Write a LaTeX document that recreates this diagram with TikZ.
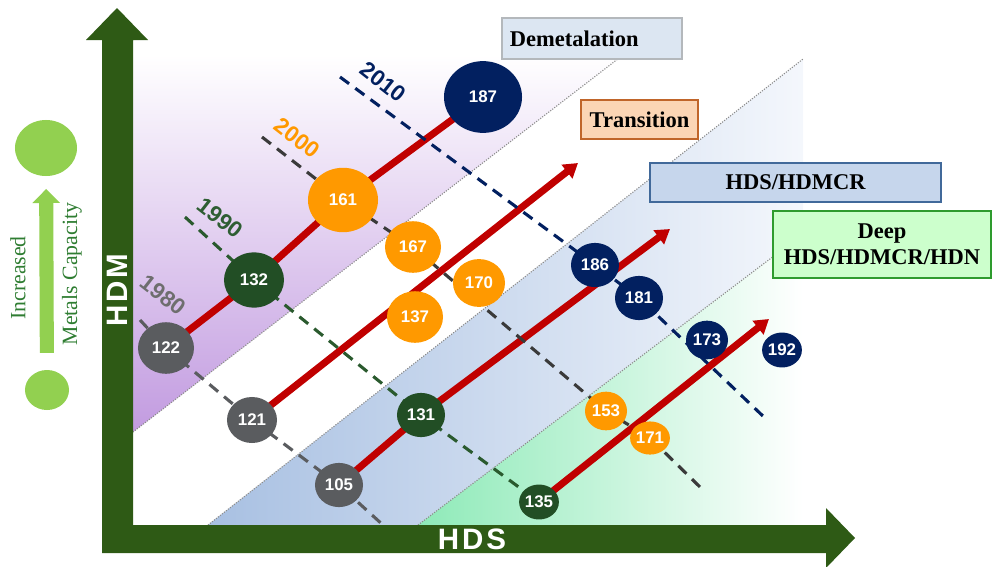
\documentclass[tikz,border=0pt]{standalone}
\usepackage{fontspec}
\setmainfont{Liberation Serif}
\newfontfamily\numfont{Liberation Sans}
\newfontfamily\axfont[LetterSpace=10]{Liberation Sans}
\usetikzlibrary{shapes.geometric,arrows.meta}

\definecolor{c80}{HTML}{5A5C5F}
\definecolor{c90}{HTML}{224E25}
\definecolor{c00}{HTML}{FF9900}
\definecolor{c10}{HTML}{022060}
\definecolor{line90}{HTML}{2A5A2E}
\definecolor{line00}{HTML}{3A3A3A}
\definecolor{lab80}{HTML}{6E6E6E}
\definecolor{lab90}{HTML}{2E5E33}
\definecolor{tred}{HTML}{C00000}
\definecolor{purp}{HTML}{C29BE0}
\definecolor{bluel}{HTML}{A8C0E2}
\definecolor{bluer}{HTML}{F4F7FC}
\definecolor{greenl}{HTML}{8EEAB8}
\definecolor{bandgray}{HTML}{8C8C8C}
\definecolor{axisgreen}{HTML}{2E5A15}
\definecolor{lgreen}{HTML}{92D050}
\definecolor{legtext}{HTML}{2F7D32}
\definecolor{demf}{HTML}{DCE6F2}
\definecolor{demb}{HTML}{B4B8BC}
\definecolor{traf}{HTML}{FBD5B5}
\definecolor{trab}{HTML}{C0652A}
\definecolor{hdsf}{HTML}{C6D6EC}
\definecolor{hdsb}{HTML}{41699A}
\definecolor{deef}{HTML}{CCFFCC}
\definecolor{deeb}{HTML}{2E9B2E}

\pgfdeclarelayer{bg}
\pgfdeclarelayer{mid}
\pgfsetlayers{bg,mid,main}

\tikzset{
  bub/.style={ellipse, inner sep=0pt, minimum width=#1*0.05cm, minimum height=#1*0.046cm,
    text=white, font=\numfont\bfseries\fontsize{12}{14}\selectfont},
  dec80/.style={bub=#1, fill=c80},
  dec90/.style={bub=#1, fill=c90},
  dec00/.style={bub=#1, fill=c00},
  dec10/.style={bub=#1, fill=c10},
  yrline/.style={line width=2.2pt, dash pattern=on 8pt off 5.5pt},
  trend/.style={draw=tred, line width=5pt},
  tip/.style={-{Triangle[length=10pt,width=12pt]}},
  band/.style={draw=bandgray, densely dotted, line width=0.8pt},
  zone/.style={draw=#1, line width=1.4pt, inner sep=0pt,
    font=\bfseries\fontsize{16}{18.5}\selectfont},
  yr/.style={font=\numfont\bfseries\fontsize{16}{18}\selectfont, rotate=-38},
  axlab/.style={text=white, font=\axfont\bfseries\fontsize{21}{24}\selectfont},
  lgtext/.style={text=legtext, rotate=90, font=\fontsize{15.5}{18}\selectfont},
}

\begin{document}
\begin{tikzpicture}[x=0.025cm, y=0.025cm]
  \useasboundingbox (0,0) rectangle (992,-566);
  \begin{pgfonlayer}{bg}
  \shade[top color=white, bottom color=purp] (133,-55) -- (623,-55) -- (133,-432) -- cycle;
  \shade[left color=bluel, right color=bluer] (208,-525) -- (803,-59) -- (803,-234) -- (418,-525) -- cycle;
  \shade[left color=greenl, right color=white] (418,-525) -- (803,-234) -- (803,-525) -- cycle;
  \draw[band] (133,-432) -- (623,-55);
  \draw[band] (208,-525) -- (803,-59);
  \draw[band] (418,-525) -- (803,-234);
  \end{pgfonlayer}

  \fill[axisgreen] (102,-553) -- (102,-40) -- (86,-40) -- (117,-8) -- (148,-40) -- (133,-40)
    -- (133,-525) -- (826,-525) -- (826,-508) -- (855,-538) -- (826,-568) -- (826,-553) -- cycle;
  \node[axlab, rotate=90] (lHDM) at (117,-290) {HDM};
  \node[axlab] (lHDS) at (472,-539) {HDS};

  \node[dec80=28] (n122) at (166,-348) {122};
  \node[dec90=30] (n132) at (254,-280) {132};
  \node[dec00=35] (n161) at (343,-200) {161};
  \node[dec10=39] (n187) at (483,-97) {187};
  \node[dec80=25] (n121) at (252,-420) {121};
  \node[dec00=28] (n167) at (413,-247) {167};
  \node[dec00=26] (n170) at (479,-283) {170};
  \node[dec00=28] (n137) at (415,-317) {137};
  \node[dec80=24] (n105) at (339,-485) {105};
  \node[dec90=24] (n131) at (421,-415) {131};
  \node[dec10=24] (n186) at (595,-265) {186};
  \node[dec10=24] (n181) at (639,-298) {181};
  \node[dec90=19] (n135) at (539,-502) {135};
  \node[dec00=21] (n153) at (606,-411) {153};
  \node[dec00=18] (n171) at (650,-438) {171};
  \node[dec10=21] (n173) at (707,-340) {173};
  \node[dec10=19] (n192) at (782,-350) {192};

  \coordinate (s80) at (140,-320);
  \coordinate (e80) at (383,-525);
  \coordinate (s90) at (185,-217);
  \coordinate (s00) at (262,-137);
  \coordinate (e00) at (701,-488);
  \coordinate (s10) at (340,-77);
  \coordinate (e10) at (765,-418);
  \coordinate (t2) at (578,-163);
  \coordinate (t3) at (670,-229);
  \coordinate (t4) at (769,-319);

  \begin{pgfonlayer}{mid}
  \draw[trend] (n122.center) -- (n132.center) -- (n161.center) -- (n187.center);
  \draw[trend, tip] (n121.center) -- (t2);
  \draw[trend, tip] (n105.center) -- (n131.center) -- (t3);
  \draw[trend, tip] (n135.center) -- (t4);
  \draw[yrline, c80] (s80) -- (n122.center) -- (n121.center) -- (n105.center) -- (e80);
  \draw[yrline, line90] (s90) -- (n132.center) -- (n131.center) -- (n135.center);
  \draw[yrline, line00] (s00) -- (n161.center) -- (n167.center) -- (n153.center) -- (n171.center) -- (e00);
  \draw[yrline, c10] (s10) -- (n186.center) -- (n181.center) -- (e10);
  \end{pgfonlayer}

  \node[yr, text=c10] (y10) at (383,-82) {2010};
  \node[yr, text=c00] (y00) at (297,-138) {2000};
  \node[yr, text=lab90] (y90) at (220,-218) {1990};
  \node[yr, text=lab80] (y80) at (163,-295) {1980};

  \node[zone=demb, fill=demf, minimum width=4.5cm, minimum height=1.025cm, text width=4.1cm, align=left] (zDem) at (592,-38.5) {Demetalation};
  \node[zone=trab, fill=traf, minimum width=2.925cm, minimum height=0.975cm] (zTra) at (639.5,-119.5) {Transition};
  \node[zone=hdsb, fill=hdsf, minimum width=7.275cm, minimum height=0.975cm] (zHds) at (795.5,-182.5) {HDS/HDMCR};
  \node[zone=deeb, fill=deef, minimum width=5.45cm, minimum height=1.675cm, align=center] (zDeep) at (882,-244.5) {Deep\\HDS/HDMCR/HDN};

  \node[ellipse, inner sep=0pt, fill=lgreen, minimum width=1.55cm, minimum height=1.4cm] (capHi) at (46,-148) {};
  \node[ellipse, inner sep=0pt, fill=lgreen, minimum width=1.1cm, minimum height=1.0cm] (capLo) at (47,-390) {};
  \draw[lgreen, line width=10pt, -{Triangle[length=10pt,width=19pt]}, shorten <=12pt, shorten >=9pt] (capLo) -- (capHi);
  \node[lgtext] (tInc) at (18,-278) {Increased};
  \node[lgtext] (tMet) at (72,-274) {Metals Capacity};
\end{tikzpicture}
\end{document}
